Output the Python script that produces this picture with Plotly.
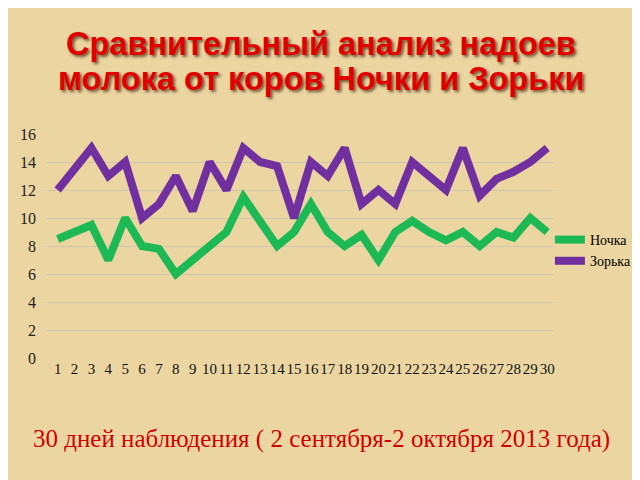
import plotly.graph_objects as go

days = [str(i) for i in range(1, 31)]
nochka = [8.5, 9, 9.5, 7, 10, 8, 7.8, 6, 7, 8, 9, 11.5, 9.7, 8, 9, 11, 9, 8, 8.8, 7,
          9, 9.8, 9, 8.4, 9, 8, 9, 8.6, 10, 9]
zorka = [12, 13.5, 15, 13, 14, 10, 11, 13, 10.5, 14, 12, 15, 14, 13.7, 10, 14, 13, 15, 11, 12,
         11, 14, 13, 12, 15, 11.6, 12.8, 13.3, 14, 15]
y_ticks = list(range(0, 17, 2))

fig = go.Figure()
fig.add_trace(go.Scatter(x=days, y=nochka, mode="lines", name="Ночка",
                         line=dict(color="#1DB954", width=8)))
fig.add_trace(go.Scatter(x=days, y=zorka, mode="lines", name="Зорька",
                         line=dict(color="#7030A0", width=8)))

serif = "Liberation Serif"
fig.update_layout(
    width=640, height=480,
    paper_bgcolor="#EBD6A2", plot_bgcolor="rgba(0,0,0,0)",
    margin=dict(l=37, r=81, t=126, b=130),
    showlegend=True,
    legend=dict(x=0.99, y=0.48, xanchor="left", yanchor="middle",
                bgcolor="rgba(0,0,0,0)", font=dict(family=serif, size=14, color="#000"),
                itemwidth=30, tracegroupgap=14),
    xaxis=dict(type="category", range=[-0.75, 29.46], showgrid=False, zeroline=False,
               showline=False, ticks="", tickmode="array", tickvals=days, ticktext=days,
               tickfont=dict(family=serif, size=15, color="#111"), tickangle=0),
    yaxis=dict(range=[0, 16], tickvals=y_ticks, showgrid=True,
               gridcolor="rgba(170,175,200,0.4)", gridwidth=1, zeroline=False,
               ticklabelstandoff=8,
               tickfont=dict(family=serif, size=16, color="#222"), ticks=""),
    font=dict(family=serif),
)

title_font = dict(family="Liberation Sans", size=32.5, color="#E00000",
                  weight="bold", shadow="2px 2px 3px rgba(60,30,0,0.7)")
fig.add_annotation(text="Сравнительный анализ надоев", xref="paper", yref="paper",
                   x=(320 - 37) / 522, y=(350 - 36) / 224, xanchor="center", yanchor="middle",
                   showarrow=False, font=title_font)
fig.add_annotation(text="молока от коров Ночки и Зорьки", xref="paper", yref="paper",
                   x=(320 - 37) / 522, y=(350 - 71) / 224, xanchor="center", yanchor="middle",
                   showarrow=False, font=title_font)
fig.add_annotation(text="30 дней наблюдения ( 2 сентября-2 октября 2013 года)", xref="paper",
                   yref="paper", x=(320 - 37) / 522, y=(350 - 431) / 224, xanchor="center",
                   yanchor="middle", showarrow=False,
                   font=dict(family=serif, size=25, color="#D00000"))

fig.write_html("out.html")
